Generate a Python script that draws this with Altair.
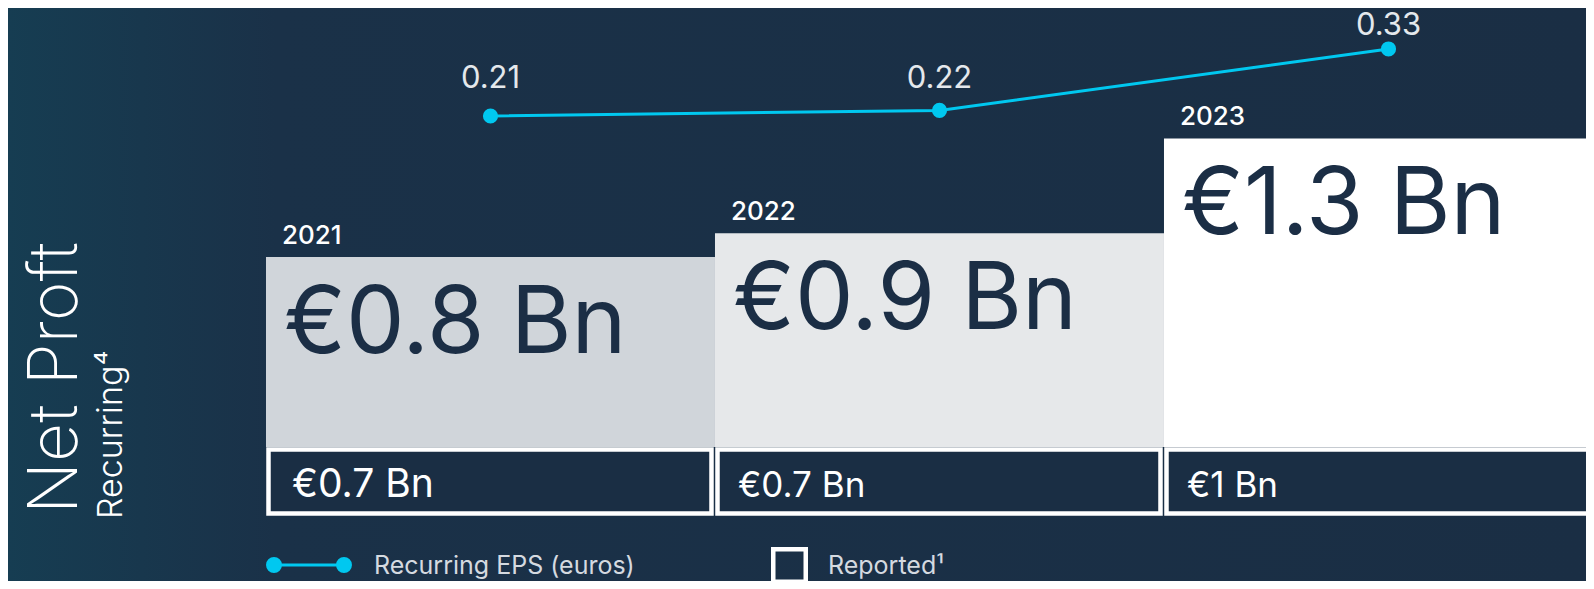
import altair as alt
import pandas as pd

# ---- data ----
years = ["2021", "2022", "2023"]
recurring = [0.8, 0.9, 1.3]                      # Net profit, recurring (EUR bn)
recurring_labels = ["€0.8 Bn", "€0.9 Bn", "€1.3 Bn"]
reported = [0.7, 0.7, 1.0]                       # Net profit, reported (EUR bn)
reported_labels = ["€0.7 Bn", "€0.7 Bn", "€1 Bn"]
eps = [0.21, 0.22, 0.33]                         # Recurring EPS (euros)
eps_labels = ["0.21", "0.22", "0.33"]
bar_colors = ["#d0d5da", "#e6e8ea", "#ffffff"]

NAVY = "#1a2e44"
CYAN = "#00c8f0"
FONT = "Inter"

df = pd.DataFrame({
    "year": years,
    "idx": list(range(len(years))),
    "recurring": recurring,
    "rec_label": recurring_labels,
    "reported": reported,
    "rep_label": reported_labels,
    "eps": eps,
    "eps_label": eps_labels,
    "color": bar_colors,
})
df["x0"] = df["idx"] - 0.5
df["x1"] = df["idx"] + 0.5
df["zero"] = 0.0

W, H = 1578, 573

xscale = alt.Scale(domain=[-1.0746, 2.4399], nice=False, zero=False)
ybar = alt.Scale(domain=[-0.5645, 1.8492], nice=False, zero=False)
yeps = alt.Scale(domain=[-0.6228, 0.4034], nice=False, zero=False)

one = pd.DataFrame({"a": [0]})

# background gradient
bg = alt.Chart(one).mark_rect(
    color=alt.Gradient(
        gradient="linear",
        stops=[
            alt.GradientStop(offset=0, color="#163d52"),
            alt.GradientStop(offset=0.17, color="#1a3148"),
            alt.GradientStop(offset=1, color=NAVY),
        ],
        x1=0, x2=1, y1=0, y2=0,
    )
).encode(x=alt.value(0), x2=alt.value(W), y=alt.value(0), y2=alt.value(H))

base = alt.Chart(df)
X0 = alt.X("x0:Q", scale=xscale, axis=None)

bars = base.mark_rect(clip=True).encode(
    x=X0,
    x2="x1:Q",
    y=alt.Y("recurring:Q", scale=ybar, axis=None),
    y2="zero:Q",
    color=alt.Color("color:N", scale=None),
)

rep_boxes = base.mark_rect(
    clip=True, fill=NAVY, stroke="white", strokeWidth=4.5,
    xOffset=2.5, x2Offset=-3.5, yOffset=2.5,
).encode(
    x=X0,
    x2="x1:Q",
    y=alt.Y("zero:Q", scale=ybar, axis=None),
    y2=alt.value(505.5),
)

rec_text = base.mark_text(
    align="left", baseline="alphabetic", dx=18, dy=96,
    fontSize=93, font=FONT, fontWeight=400, color="#1b2e45",
).encode(
    x=X0,
    y=alt.Y("recurring:Q", scale=ybar, axis=None),
    text="rec_label:N",
)

year_text = base.mark_text(
    align="left", baseline="alphabetic", dx=16, dy=-13,
    fontSize=26, font=FONT, fontWeight=500, color="white",
).encode(
    x=X0,
    y=alt.Y("recurring:Q", scale=ybar, axis=None),
    text="year:N",
)

rep_text_first = base.transform_filter(alt.datum.idx == 0).mark_text(
    align="left", baseline="alphabetic", dx=26, dy=50,
    fontSize=39, font=FONT, fontWeight=400, color="white",
).encode(
    x=X0,
    y=alt.Y("zero:Q", scale=ybar, axis=None),
    text="rep_label:N",
)
rep_text_rest = base.transform_filter(alt.datum.idx > 0).mark_text(
    align="left", baseline="alphabetic", dx=23, dy=50,
    fontSize=35, font=FONT, fontWeight=400, color="white",
).encode(
    x=X0,
    y=alt.Y("zero:Q", scale=ybar, axis=None),
    text="rep_label:N",
)

bar_layer = alt.layer(bars, rep_boxes, rec_text, year_text, rep_text_first, rep_text_rest)

XI = alt.X("idx:Q", scale=xscale, axis=None)
YE = alt.Y("eps:Q", scale=yeps, axis=None)

eps_line = base.mark_line(color=CYAN, strokeWidth=3).encode(x=XI, y=YE)
eps_pts = base.mark_point(filled=True, color=CYAN, size=230, opacity=1).encode(x=XI, y=YE)


def eps_label(i, dy):
    return base.transform_filter(alt.datum.idx == i).mark_text(
        align="center", baseline="alphabetic", dy=dy,
        fontSize=31, font=FONT, fontWeight=400, color="#e4e8ec",
    ).encode(x=XI, y=YE, text="eps_label:N")


eps_layer = alt.layer(
    eps_line, eps_pts,
    eps_label(0, -28), eps_label(1, -22), eps_label(2, -13.5),
)

# left titles
title1 = alt.Chart(one).mark_text(
    text="Net Proft", angle=270, align="left", baseline="alphabetic",
    fontSize=68, font=FONT, fontWeight=200, color="white",
).encode(x=alt.value(69), y=alt.value(506))
title2 = alt.Chart(one).mark_text(
    text="Recurring⁴", angle=270, align="left", baseline="alphabetic",
    fontSize=34, font=FONT, fontWeight=300, color="white",
).encode(x=alt.value(114), y=alt.value(511))

# legend
leg_line = alt.Chart(one).mark_rule(color=CYAN, strokeWidth=3).encode(
    x=alt.value(266), x2=alt.value(336), y=alt.value(557))
leg_dots = alt.Chart(pd.DataFrame({"px": [266, 336]})).mark_point(
    filled=True, color=CYAN, size=254, opacity=1
).encode(x=alt.X("px:Q", scale=None), y=alt.value(557))
leg_text1 = alt.Chart(one).mark_text(
    text="Recurring EPS (euros)", align="left", baseline="alphabetic",
    fontSize=25, font=FONT, fontWeight=400, color="#d5dae0",
).encode(x=alt.value(366), y=alt.value(566))
leg_square = alt.Chart(one).mark_point(
    shape="square", filled=False, color="white", size=1056, strokeWidth=4.5, opacity=1
).encode(x=alt.value(781.5), y=alt.value(557.5))
leg_text2 = alt.Chart(one).mark_text(
    text="Reported¹", align="left", baseline="alphabetic",
    fontSize=25, font=FONT, fontWeight=400, color="#d5dae0",
).encode(x=alt.value(820), y=alt.value(566))

chart = alt.layer(
    bg, bar_layer, eps_layer, title1, title2,
    leg_line, leg_dots, leg_text1, leg_square, leg_text2,
).resolve_scale(y="independent").properties(
    width=W, height=H, padding=0,
    autosize=alt.AutoSizeParams(type="none"),
    background=NAVY,
).configure_view(strokeWidth=0)

chart.save("out.html", embed_options={"renderer": "svg", "actions": False})
